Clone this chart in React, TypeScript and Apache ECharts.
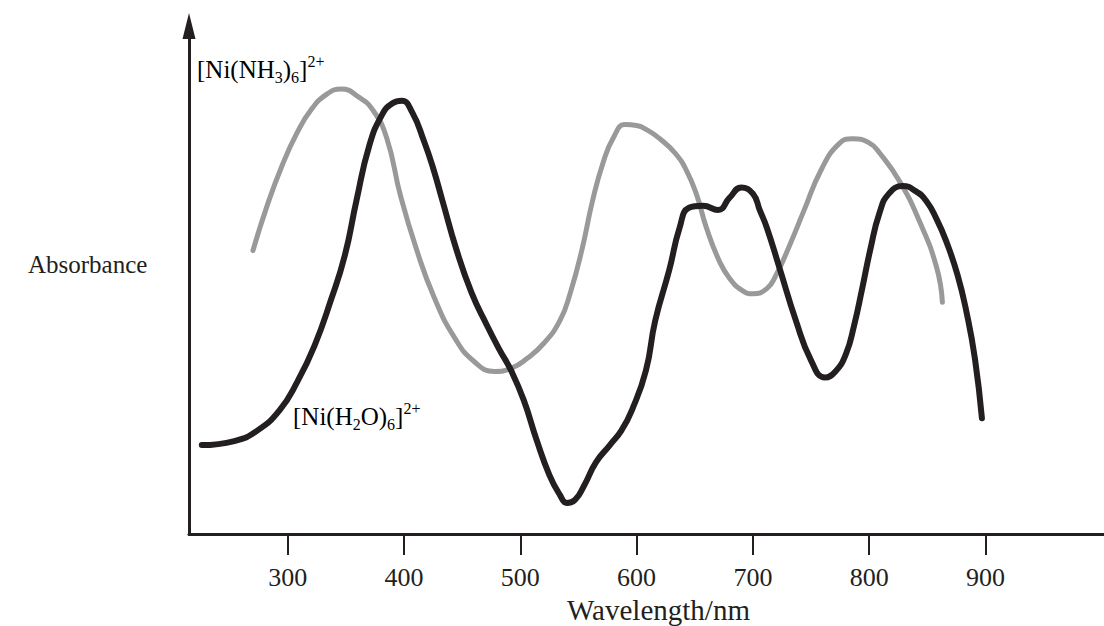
import React, { useEffect, useRef } from "react";
import * as echarts from "echarts";

// [Ni(NH3)6]2+ spectrum: wavelength (nm) and absorbance (arbitrary units, 0-100)
const nh3Wavelengths = [270, 282, 295, 308, 320, 333, 346, 361, 373, 385, 397, 411, 426, 443, 460, 478, 492, 506, 520, 534, 543, 553, 562, 571, 580, 590, 600, 610, 620, 633, 643, 652, 660, 671, 680, 691, 700, 712, 720, 731, 744, 759, 774, 786, 800, 809, 826, 843, 858, 863];
const nh3Absorbance = [55.8, 64.5, 72.5, 79, 83.5, 86.5, 87.6, 86, 83.5, 78, 66.5, 55.8, 46.5, 38.8, 34, 32, 32.6, 34.6, 37.5, 42, 47.5, 56, 65.5, 73, 78, 80.6, 80.4, 79.4, 77.8, 75, 71.5, 66.5, 60.3, 53.8, 50.3, 47.9, 47.3, 48.3, 51, 56.5, 63.7, 71.8, 76.8, 77.8, 77, 75, 69.5, 61.7, 52.5, 45.6];

// [Ni(H2O)6]2+ spectrum
const h2oWavelengths = [226, 254, 274, 293, 308, 323, 337, 349, 359, 370, 381, 390, 398, 407, 417, 425, 433, 445, 458, 471, 482, 492, 503, 514, 525, 534, 540, 547, 555, 565, 577, 587, 596, 608, 616, 628, 637, 645, 657, 670, 680, 690, 700, 706, 712, 723, 737, 750, 762, 771, 780, 787, 794, 801, 809, 817, 829, 840, 849, 858, 866, 876, 884, 891, 897];
const h2oAbsorbance = [17.5, 18.3, 20.4, 24.4, 29.9, 37.1, 46, 54.8, 65.6, 76.4, 82.5, 84.8, 85.3, 83, 77.4, 72, 65.6, 56, 47.5, 41.2, 36.3, 32.2, 26.3, 18.5, 11.6, 7.7, 6.1, 6.7, 9.6, 14.1, 17.5, 20.4, 24.4, 32.2, 42, 51.9, 60.3, 64.2, 64.6, 63.8, 66.2, 68.2, 67, 63.7, 60.3, 52.3, 42, 34.2, 30.8, 32, 35.4, 41, 48.3, 56, 63.3, 67, 68.5, 67.5, 65.6, 62, 57.8, 51, 43.4, 34.5, 22.8];

const xTickValues = [300, 400, 500, 600, 700, 800, 900];
const xMin = 215;
const xMax = 1002;

const xAxisTitle = "Wavelength/nm";
const yAxisTitle = "Absorbance";

const INK = "#231f20";
const GREY = "#98999b";
const FONT = "'Liberation Serif', 'Times New Roman', serif";

const pairs = (xs: number[], ys: number[]) => xs.map((x, i) => [x, ys[i]]);

const richStyles = {
  m: { fontSize: 25, lineHeight: 32, fontFamily: FONT, color: INK },
  sub: { fontSize: 16, lineHeight: 16, verticalAlign: "bottom", fontFamily: FONT, color: INK },
  sup: { fontSize: 16, lineHeight: 16, verticalAlign: "top", fontFamily: FONT, color: INK },
};

export default function App() {
  const ref = useRef<HTMLDivElement>(null);
  useEffect(() => {
    if (!ref.current) return;
    const chart = echarts.init(ref.current, null, { renderer: "svg" });
    chart.setOption({
      animation: false,
      backgroundColor: "#ffffff",
      grid: { left: 189, right: 0, top: 26, bottom: 92, containLabel: false, outerBoundsMode: "none" },
      xAxis: {
        type: "value",
        min: xMin,
        max: xMax,
        name: xAxisTitle,
        nameLocation: "middle",
        nameGap: 61,
        nameTextStyle: { fontFamily: FONT, fontSize: 29, color: INK, padding: [0, 0, 0, 24] },
        axisLine: { show: true, onZero: false, lineStyle: { color: INK, width: 3 } },
        axisTick: {
          show: true,
          inside: false,
          length: 21,
          lineStyle: { color: INK, width: 2 },
          customValues: xTickValues,
        },
        axisLabel: { fontFamily: FONT, fontSize: 26, color: INK, margin: 30, customValues: xTickValues },
        splitLine: { show: false },
      },
      yAxis: {
        type: "value",
        min: 0,
        max: 100,
        axisLine: {
          show: true,
          symbol: ["none", "triangle"],
          symbolSize: [13, 26],
          lineStyle: { color: INK, width: 3 },
        },
        axisTick: { show: false },
        axisLabel: { show: false },
        splitLine: { show: false },
      },
      graphic: [
        {
          type: "text",
          left: 28,
          top: 252,
          style: { text: yAxisTitle, fontFamily: FONT, fontSize: 25, fill: INK },
        },
        {
          type: "text",
          left: 197,
          top: 53,
          style: {
            text: "{m|[Ni(NH}{sub|3}{m|)}{sub|6}{m|]}{sup|2+}",
            rich: richStyles,
          },
        },
        {
          type: "text",
          left: 293,
          top: 400,
          style: {
            text: "{m|[Ni(H}{sub|2}{m|O)}{sub|6}{m|]}{sup|2+}",
            rich: richStyles,
          },
        },
      ],
      series: [
        {
          name: "[Ni(NH3)6]2+",
          type: "line",
          data: pairs(nh3Wavelengths, nh3Absorbance),
          smooth: 0.5,
          showSymbol: false,
          lineStyle: { color: GREY, width: 5, cap: "round", join: "round" },
          z: 2,
        },
        {
          name: "[Ni(H2O)6]2+",
          type: "line",
          data: pairs(h2oWavelengths, h2oAbsorbance),
          smooth: 0.5,
          showSymbol: false,
          lineStyle: { color: INK, width: 6, cap: "round", join: "round" },
          z: 3,
        },
      ],
    });
    return () => chart.dispose();
  }, []);
  return (
    <div
      ref={ref}
      style={{ position: "absolute", left: 0, top: 0, width: 1104, height: 626 }}
    />
  );
}
